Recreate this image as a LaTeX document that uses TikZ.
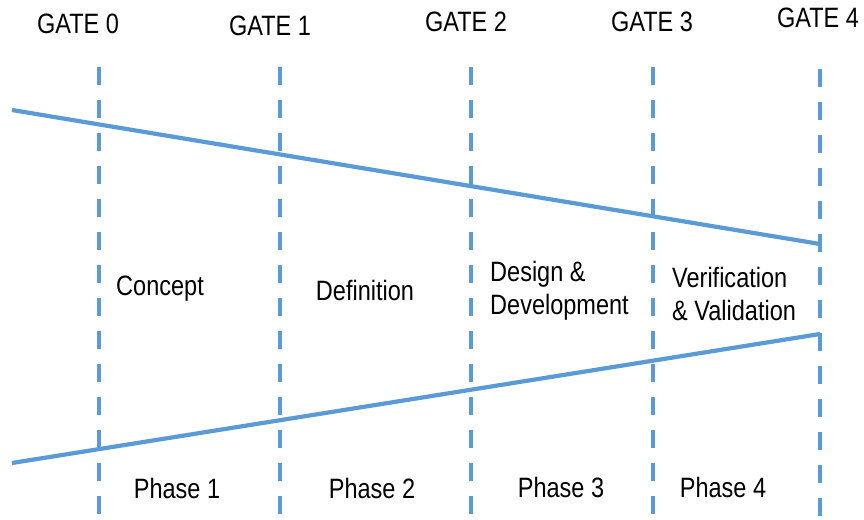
\documentclass[tikz,border=0pt]{standalone}
\usepackage{fontspec}
\setmainfont[FakeStretch=0.84]{Liberation Sans}
\usetikzlibrary{positioning}
\definecolor{gateblue}{RGB}{91,155,213}
\tikzset{
    gateline/.style={draw=gateblue, line width=4pt, dash pattern=on 18pt off 15pt},
    funnel/.style={draw=gateblue, line width=4.2pt},
    lbl/.style={inner sep=0pt, font=\fontsize{28}{33}\selectfont, text=black},
}

\begin{document}
\begin{tikzpicture}[x=1pt, y=-1pt]
    \useasboundingbox (0,0) rectangle (864,519);
    % gate lines
    \coordinate (t0) at (99, 67);
    \coordinate (t1) at (280, 67);
    \coordinate (t2) at (471, 67);
    \coordinate (t3) at (653, 67);
    \coordinate (t4) at (820, 69);
    \coordinate (b0) at (99, 525);
    \coordinate (b1) at (280, 525);
    \coordinate (b2) at (471, 525);
    \coordinate (b3) at (653, 525);
    \coordinate (b4) at (820, 525);
    \draw[gateline] (t0) -- (b0);
    \draw[gateline] (t1) -- (b1);
    \draw[gateline] (t2) -- (b2);
    \draw[gateline] (t3) -- (b3);
    \draw[gateline] (t4) -- (b4);
    % funnel
    \coordinate (u0) at (12, 110);
    \coordinate (u1) at (820, 244);
    \coordinate (l0) at (12, 463);
    \coordinate (l1) at (820, 334);
    \draw[funnel] (u0) -- (u1);
    \draw[funnel] (l0) -- (l1);
    % gate labels
    \node[lbl] (gate0) at (78, 24) {GATE 0};
    \node[lbl] (gate1) at (270, 26) {GATE 1};
    \node[lbl] (gate2) at (466, 22) {GATE 2};
    \node[lbl] (gate3) at (652, 22) {GATE 3};
    \node[lbl] (gate4) at (818, 18) {GATE 4};
    % stages
    \node[lbl] (concept) at (160, 289) {Concept};
    \node[lbl] (definition) at (365, 290) {Definition};
    \node[lbl, anchor=west, align=left] (design) at (490, 291) {Design \&\\Development};
    \node[lbl, anchor=west, align=left] (verif) at (672, 294) {Verification\\\& Validation};
    % phases
    \node[lbl] (phase1) at (177, 488) {Phase 1};
    \node[lbl] (phase2) at (372, 488) {Phase 2};
    \node[lbl] (phase3) at (561, 487) {Phase 3};
    \node[lbl] (phase4) at (723, 487) {Phase 4};
\end{tikzpicture}
\end{document}
